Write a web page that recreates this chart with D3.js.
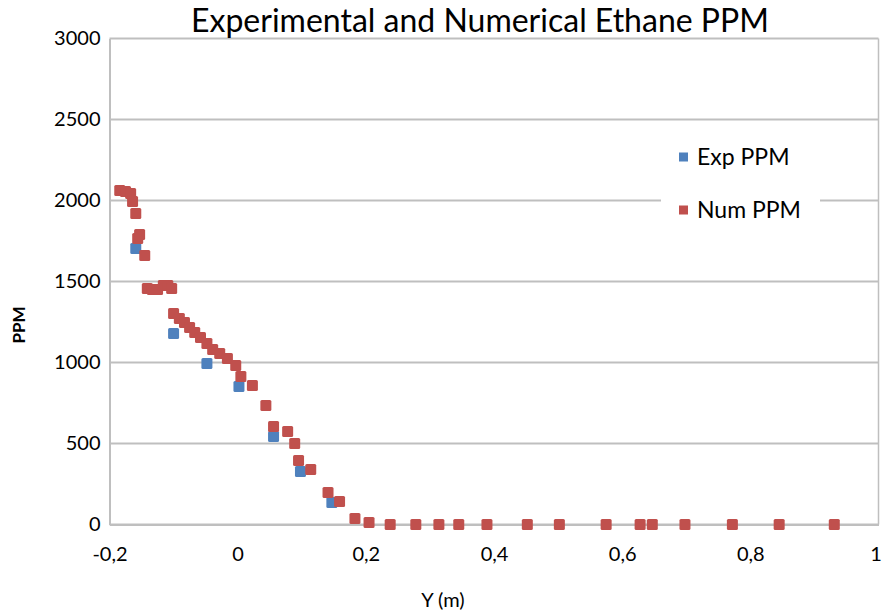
<!DOCTYPE html>
<html>
<head>
<meta charset="utf-8">
<script src="https://cdn.jsdelivr.net/npm/d3@7"></script>
<style>
  html, body { margin: 0; padding: 0; background: #fff; }
  svg { display: block; font-family: Lato, "Open Sans", sans-serif; }
</style>
</head>
<body>
<svg id="chart" width="883" height="613"></svg>
<script>
// Experimental measurements (position in m, ethane in ppm)
const expY   = [-0.159, -0.100, -0.048, 0.002, 0.056, 0.098, 0.147];
const expPPM = [1704, 1179, 994, 852, 543, 327, 136];

// Numerical results (position in m, ethane in ppm)
const numY = [-0.184, -0.175, -0.167, -0.164, -0.159, -0.156, -0.153, -0.145,
  -0.141, -0.133, -0.125, -0.116, -0.109, -0.103, -0.100, -0.091, -0.083,
  -0.075, -0.067, -0.058, -0.048, -0.039, -0.028, -0.016, -0.003, 0.005,
  0.023, 0.044, 0.056, 0.078, 0.089, 0.095, 0.114, 0.141, 0.159, 0.183,
  0.205, 0.238, 0.278, 0.314, 0.345, 0.389, 0.452, 0.502, 0.575, 0.628,
  0.647, 0.698, 0.772, 0.845, 0.931];
const numPPM = [2062, 2056, 2043, 1994, 1920, 1765, 1790, 1660,
  1457, 1451, 1451, 1475, 1475, 1457, 1302, 1272, 1247,
  1216, 1185, 1154, 1117, 1080, 1056, 1025, 981, 914,
  858, 735, 605, 574, 500, 395, 340, 198, 142, 37,
  12, 0, 0, 0, 0, 0, 0, 0, 0, 0,
  0, 0, 0, 0, 0];

const xTicks = [-0.2, 0, 0.2, 0.4, 0.6, 0.8, 1];
const xTickLabels = ["-0,2", "0", "0,2", "0,4", "0,6", "0,8", "1"];
const yTicks = [0, 500, 1000, 1500, 2000, 2500, 3000];
const yTickLabels = ["0", "500", "1000", "1500", "2000", "2500", "3000"];

const seriesNames = ["Exp PPM", "Num PPM"];
const seriesColors = ["#4F81BD", "#C0504D"];

const svg = d3.select("#chart");
const plotLeft = 109.5, plotRight = 878.5, plotTop = 38.5, plotBottom = 524.5;

const x = d3.scaleLinear().domain([-0.2, 1]).range([plotLeft, plotRight]);
const y = d3.scaleLinear().domain([0, 3000]).range([plotBottom, plotTop]);

const gridColor = "#BFBFBF";
const fontStack = "Lato, 'Open Sans', sans-serif";

// horizontal gridlines
svg.append("g")
  .selectAll("line")
  .data(yTicks)
  .join("line")
  .attr("x1", plotLeft).attr("x2", plotRight)
  .attr("y1", d => y(d)).attr("y2", d => y(d))
  .attr("stroke", gridColor).attr("stroke-width", 2);

// plot-area border (right edge)
svg.append("line")
  .attr("x1", plotRight).attr("x2", plotRight).attr("y1", plotTop).attr("y2", plotBottom)
  .attr("stroke", gridColor).attr("stroke-width", 1.5);

// y axis
const yAxis = d3.axisLeft(y)
  .tickValues(yTicks)
  .tickFormat((d, i) => yTickLabels[i])
  .tickSize(0).tickPadding(9);
const gy = svg.append("g").attr("transform", `translate(${plotLeft},0)`).call(yAxis);
gy.select(".domain").attr("stroke", gridColor).attr("stroke-width", 2);
gy.selectAll("text").attr("font-size", 20).attr("fill", "#000")
  .attr("font-family", fontStack);

// x axis
const xAxis = d3.axisBottom(x)
  .tickValues(xTicks)
  .tickFormat((d, i) => xTickLabels[i])
  .tickSize(0).tickPadding(22);
const gx = svg.append("g").attr("transform", `translate(0,${plotBottom})`).call(xAxis);
gx.select(".domain").attr("stroke", gridColor).attr("stroke-width", 2);
gx.selectAll("text").attr("font-size", 20).attr("fill", "#000")
  .attr("font-family", fontStack);
// keep the last label inside the canvas
gx.selectAll(".tick:last-of-type text").attr("dx", -3);

// markers
const size = 11;
function drawSeries(xs, vs, color) {
  svg.append("g")
    .selectAll("rect")
    .data(xs.map((d, i) => [d, vs[i]]))
    .join("rect")
    .attr("x", d => x(d[0]) - size / 2)
    .attr("y", d => y(d[1]) - size / 2)
    .attr("width", size).attr("height", size)
    .attr("rx", 1.5)
    .attr("fill", color);
}
drawSeries(expY, expPPM, seriesColors[0]);
drawSeries(numY, numPPM, seriesColors[1]);

// title
svg.append("text")
  .attr("x", 480).attr("y", 32)
  .attr("text-anchor", "middle")
  .attr("font-size", 32)
  .attr("fill", "#000")
  .text("Experimental and Numerical Ethane PPM");

// axis titles
svg.append("text")
  .attr("x", 443).attr("y", 607)
  .attr("text-anchor", "middle")
  .attr("font-size", 20)
  .attr("fill", "#000")
  .text("Y (m)");

svg.append("text")
  .attr("transform", `translate(25,325) rotate(-90)`)
  .attr("text-anchor", "middle")
  .attr("font-size", 17)
  .attr("font-weight", "bold")
  .attr("fill", "#000")
  .text("PPM");

// legend
const legend = svg.append("g");
legend.append("rect")
  .attr("x", 661).attr("y", 128).attr("width", 159).attr("height", 100)
  .attr("fill", "#fff");
const legendRows = [157, 210];
seriesNames.forEach((name, i) => {
  legend.append("rect")
    .attr("x", 679).attr("y", legendRows[i] - 4.5)
    .attr("width", 9).attr("height", 9)
    .attr("fill", seriesColors[i]);
  legend.append("text")
    .attr("x", 697).attr("y", legendRows[i] + 8)
    .attr("font-size", 23)
    .attr("fill", "#000")
    .text(name);
});
</script>
</body>
</html>
